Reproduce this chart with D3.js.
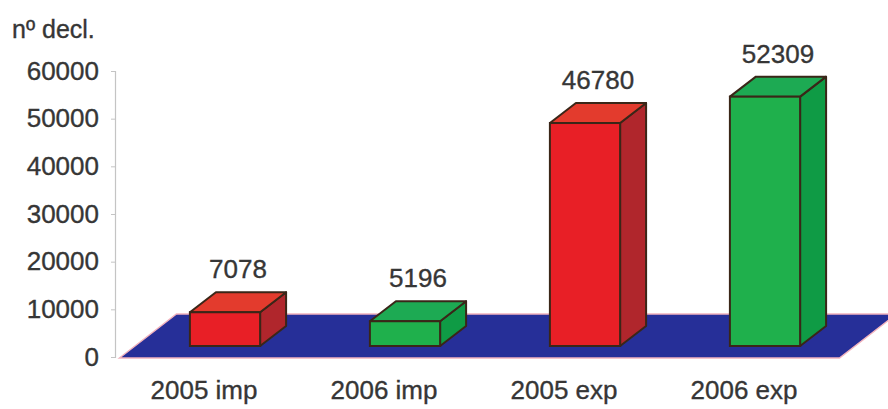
<!DOCTYPE html>
<html>
<head>
<meta charset="utf-8">
<script src="https://cdn.jsdelivr.net/npm/d3@7/dist/d3.min.js"></script>
<style>
  html, body { margin: 0; padding: 0; background: #ffffff; }
  svg { display: block; }
  text { font-family: "Liberation Sans", Arial, sans-serif; fill: #363636; stroke: #363636; stroke-width: 0.35px; }
</style>
</head>
<body>
<svg id="chart" width="888" height="409"></svg>
<script>
// Number of declarations, imports vs exports
const categories = ["2005 imp", "2006 imp", "2005 exp", "2006 exp"];
const values = [7078, 5196, 46780, 52309];
const years = ["2005", "2006", "2005", "2006"];
const yTicks = [0, 10000, 20000, 30000, 40000, 50000, 60000];
const yTitle = "nº decl.";

const palette = {
  "2005": { front: "#e81f26", side: "#b0262c", top: "#e33b2d" },
  "2006": { front: "#1fb04c", side: "#0f9b45", top: "#1daa53" }
};

const svg = d3.select("#chart");

// Axis scale (back wall) and bar scale (front plane of the boxes)
const yAxisScale = d3.scaleLinear().domain([0, 60000]).range([357, 71]);
const barBase = 346;
const yBar = d3.scaleLinear().domain([0, 60000]).range([barBase, barBase - 286]);

const x = d3.scaleBand()
  .domain(categories)
  .range([135, 855])
  .paddingInner(0.61)
  .paddingOuter(0.305);

// Depth vectors: full floor depth and box depth
const floorDepth = { dx: 57, dy: -44 };
const boxDepth = { dx: 26, dy: -20 };
const frontGap = 12; // floor front edge sits below the box front plane
const frontShift = frontGap * floorDepth.dx / floorDepth.dy; // negative x shift

// Floor
const [r0, r1] = x.range();
const fl = [
  [r0 + frontShift, barBase + frontGap],
  [r1 + frontShift, barBase + frontGap],
  [r1 + frontShift + floorDepth.dx, barBase + frontGap + floorDepth.dy],
  [r0 + frontShift + floorDepth.dx, barBase + frontGap + floorDepth.dy]
];
svg.append("polygon")
  .attr("points", fl.map(p => p.join(",")).join(" "))
  .attr("fill", "#262f98")
  .attr("stroke", "#f2b3bd")
  .attr("stroke-width", 1.4);

// Y axis
const axis = d3.axisLeft(yAxisScale)
  .tickValues(yTicks)
  .tickSize(4)
  .tickPadding(12)
  .tickFormat(d3.format("d"));
const gAxis = svg.append("g")
  .attr("transform", "translate(115,0)")
  .call(axis);
gAxis.select(".domain").attr("stroke", "#c4c4c4").attr("stroke-width", 1.2);
gAxis.selectAll(".tick line").attr("stroke", "#c4c4c4");
gAxis.selectAll(".tick text")
  .style("font-family", "'Liberation Sans', Arial, sans-serif")
  .style("font-size", "26px")
  .attr("fill", "#363636");

svg.append("text")
  .attr("x", 12)
  .attr("y", 38)
  .style("font-size", "25px")
  .text(yTitle);

// Boxes
const bars = svg.append("g").selectAll("g.bar")
  .data(categories.map((c, i) => ({ c, v: values[i], year: years[i] })))
  .join("g")
  .attr("class", "bar");

const pts = arr => arr.map(p => p.join(",")).join(" ");
const strokeCol = "#3a2618";

bars.each(function (d) {
  const g = d3.select(this);
  const x0 = x(d.c), x1 = x0 + x.bandwidth();
  const yt = yBar(d.v), yb = yBar(0);
  const { dx, dy } = boxDepth;
  const col = palette[d.year];

  g.append("polygon")
    .attr("points", pts([[x1, yb], [x1 + dx, yb + dy], [x1 + dx, yt + dy], [x1, yt]]))
    .attr("fill", col.side).attr("stroke", strokeCol).attr("stroke-width", 2)
    .attr("stroke-linejoin", "round");
  g.append("polygon")
    .attr("points", pts([[x0, yt], [x0 + dx, yt + dy], [x1 + dx, yt + dy], [x1, yt]]))
    .attr("fill", col.top).attr("stroke", strokeCol).attr("stroke-width", 2)
    .attr("stroke-linejoin", "round");
  g.append("rect")
    .attr("x", x0).attr("y", yt)
    .attr("width", x1 - x0).attr("height", yb - yt)
    .attr("fill", col.front).attr("stroke", strokeCol).attr("stroke-width", 2);

  g.append("text")
    .attr("x", (x0 + x1 + dx) / 2)
    .attr("y", yt + dy - 14)
    .attr("text-anchor", "middle")
    .style("font-size", "26px")
    .text(d.v);
});

// Category labels along the front edge of the floor
svg.append("g").selectAll("text.cat")
  .data(categories)
  .join("text")
  .attr("class", "cat")
  .attr("x", d => x(d) + x.bandwidth() / 2 - 21)
  .attr("y", 399)
  .attr("text-anchor", "middle")
  .style("font-size", "26px")
  .text(d => d);
</script>
</body>
</html>
